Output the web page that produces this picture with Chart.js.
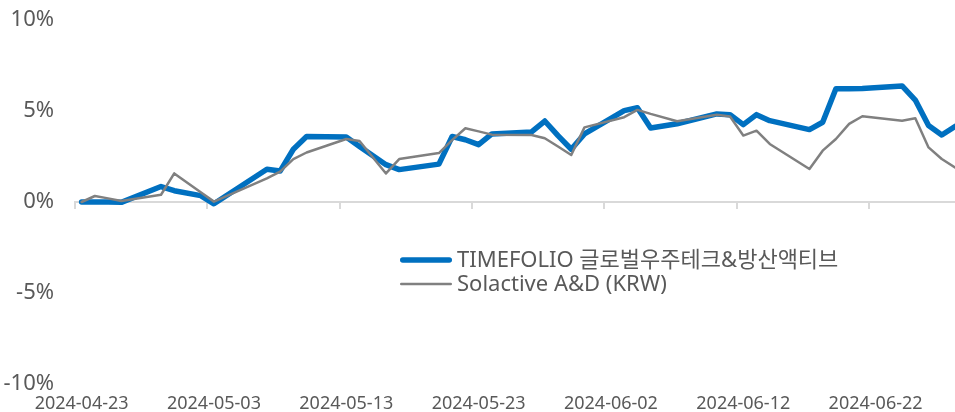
<!DOCTYPE html>
<html>
<head>
<meta charset="utf-8">
<script src="https://cdn.jsdelivr.net/npm/chart.js@4/dist/chart.umd.min.js"></script>
<style>
  html, body { margin: 0; padding: 0; background: #ffffff; }
  #wrap { width: 955px; height: 412px; position: relative; }
</style>
</head>
<body>
<div id="wrap"><canvas id="c" width="955" height="412"></canvas></div>
<script>
// ---- data ----
const dates = [
  '2024-04-23','2024-04-24','2024-04-25','2024-04-26','2024-04-29','2024-04-30',
  '2024-05-02','2024-05-03','2024-05-07','2024-05-08','2024-05-09','2024-05-10',
  '2024-05-13','2024-05-14','2024-05-16','2024-05-17','2024-05-20','2024-05-21',
  '2024-05-22','2024-05-23','2024-05-24','2024-05-27','2024-05-28','2024-05-29',
  '2024-05-30','2024-05-31','2024-06-03','2024-06-04','2024-06-05','2024-06-07',
  '2024-06-10','2024-06-11','2024-06-12','2024-06-13','2024-06-14','2024-06-17',
  '2024-06-18','2024-06-19','2024-06-20','2024-06-21','2024-06-24','2024-06-25',
  '2024-06-26','2024-06-27','2024-06-28'
];
const timefolio = [
  0.00, 0.00, 0.00, -0.02, 0.85, 0.62,
  0.35, -0.10, 1.80, 1.70, 2.90, 3.60,
  3.57, 3.05, 2.05, 1.78, 2.08, 3.60,
  3.42, 3.15, 3.74, 3.85, 4.45, 3.65,
  2.90, 3.74, 5.02, 5.18, 4.07, 4.30,
  4.84, 4.80, 4.25, 4.80, 4.47, 3.98,
  4.38, 6.22, 6.22, 6.24, 6.38, 5.60,
  4.20, 3.68, 4.15
];
const solactive = [
  0.00, 0.33, 0.20, 0.05, 0.40, 1.57,
  0.53, 0.02, 1.30, 1.67, 2.36, 2.72,
  3.46, 3.35, 1.57, 2.36, 2.69, 3.40,
  4.05, 3.88, 3.70, 3.68, 3.50, 3.05,
  2.58, 4.10, 4.66, 5.06, 4.84, 4.44,
  4.79, 4.70, 3.65, 3.92, 3.19, 1.81,
  2.82, 3.46, 4.29, 4.71, 4.47, 4.60,
  3.00, 2.36, 1.90
];
const seriesNames = ['TIMEFOLIO 글로벌우주테크&방산액티브', 'Solactive A&D (KRW)'];
const xTickLabels = ['2024-04-23','2024-05-03','2024-05-13','2024-05-23','2024-06-02','2024-06-12','2024-06-22'];
const yTickValues = [-10, -5, 0, 5, 10];

// ---- helpers ----
const DAY = 86400000;
const t0 = Date.parse(dates[0] + 'T00:00:00Z');
const dayIndex = s => Math.round((Date.parse(s + 'T00:00:00Z') - t0) / DAY);
const toPoints = vals => vals.map((v, i) => ({ x: dayIndex(dates[i]), y: v }));
const lastDay = dayIndex(dates[dates.length - 1]);
const labelDays = xTickLabels.map(dayIndex);

const textColor = '#595959';
const fontFamily = '"Noto Sans", "Noto Sans CJK KR", sans-serif';

const legendPlugin = {
  id: 'insideLegend',
  afterDraw(chart) {
    const ctx = chart.ctx;
    const x0 = 400, lineLen = 52, gap = 5, y0 = 260, rowH = 24;
    ctx.save();
    ctx.font = '22px ' + fontFamily;
    ctx.textBaseline = 'middle';
    ctx.textAlign = 'left';
    chart.data.datasets.forEach((ds, i) => {
      const y = y0 + i * rowH;
      ctx.beginPath();
      ctx.strokeStyle = ds.borderColor;
      ctx.lineWidth = ds.borderWidth;
      ctx.lineCap = 'round';
      ctx.moveTo(x0 + ds.borderWidth / 2, y);
      ctx.lineTo(x0 + lineLen - ds.borderWidth / 2, y);
      ctx.stroke();
      ctx.fillStyle = textColor;
      ctx.fillText(ds.label, x0 + lineLen + gap, y + 1);
    });
    ctx.restore();
  }
};

new Chart(document.getElementById('c'), {
  type: 'line',
  data: {
    datasets: [
      {
        label: seriesNames[0],
        data: toPoints(timefolio),
        borderColor: '#0070C0',
        borderWidth: 5.5,
        pointRadius: 0,
        tension: 0,
        borderJoinStyle: 'round',
        borderCapStyle: 'round',
        xAxisID: 'x',
        order: 2
      },
      {
        label: seriesNames[1],
        data: toPoints(solactive),
        borderColor: '#808080',
        borderWidth: 2.5,
        pointRadius: 0,
        tension: 0,
        borderJoinStyle: 'round',
        borderCapStyle: 'round',
        xAxisID: 'x',
        order: 1
      }
    ]
  },
  options: {
    responsive: false,
    animation: false,
    events: [],
    layout: { padding: { top: 20, right: 0, bottom: 0, left: 0 } },
    plugins: { legend: { display: false }, tooltip: { enabled: false } },
    scales: {
      x: {
        type: 'linear',
        position: 'bottom',
        min: -0.5,
        max: lastDay,
        grid: { display: false, drawTicks: false },
        border: { display: false },
        afterBuildTicks: s => { s.ticks = labelDays.map(v => ({ value: v })); },
        afterFit: s => { s.height = 28; s.paddingRight = 0; },
        ticks: {
          autoSkip: false,
          maxRotation: 0,
          padding: 9,
          color: textColor,
          font: { family: fontFamily, size: 18 },
          callback: (v) => xTickLabels[labelDays.indexOf(v)] || ''
        }
      },
      xAxisLine: {
        type: 'linear',
        axis: 'x',
        position: { y: 0 },
        min: -0.5,
        max: lastDay,
        afterBuildTicks: s => { s.ticks = labelDays.map(v => ({ value: v - 0.5 })); },
        afterFit: s => { s.height = 0; s.paddingLeft = 0; s.paddingRight = 0; },
        grid: { display: true, drawOnChartArea: false, drawTicks: true, tickLength: 6, color: '#d9d9d9', lineWidth: 2 },
        border: { display: true, color: '#d9d9d9', width: 2 },
        ticks: { display: false }
      },
      y: {
        type: 'linear',
        position: 'left',
        min: -10,
        max: 10,
        afterBuildTicks: s => { s.ticks = yTickValues.map(v => ({ value: v })); },
        afterFit: s => { s.width = 75; s.paddingTop = 0; s.paddingBottom = 0; },
        grid: { display: false, drawTicks: false },
        border: { display: false },
        ticks: {
          padding: 21,
          color: textColor,
          font: { family: fontFamily, size: 22 },
          callback: v => v + '%'
        }
      }
    }
  },
  plugins: [legendPlugin]
});
</script>
</body>
</html>
